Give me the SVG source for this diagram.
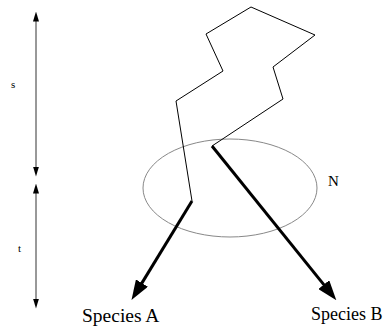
<svg xmlns="http://www.w3.org/2000/svg" width="387" height="328" viewBox="0 0 387 328">
<style>
.lbl{font-family:"Liberation Serif",serif;fill:#000}
.thin{fill:none;stroke:#333;stroke-width:1}
.thick{fill:none;stroke:#000;stroke-width:3}
</style>
<defs>
<marker id="sm" viewBox="0 0 10 6" refX="0.5" refY="3" markerWidth="10" markerHeight="6" markerUnits="userSpaceOnUse" orient="auto-start-reverse">
<path d="M0,0 L10,3 L0,6 z" fill="#000"/>
</marker>
<marker id="big" viewBox="0 0 20 14" refX="1" refY="7" markerWidth="20" markerHeight="14" markerUnits="userSpaceOnUse" orient="auto">
<path d="M0,0 L20,7 L0,14 z" fill="#000"/>
</marker>
</defs>
<rect width="387" height="328" fill="#fff"/>
<g id="scale-s">
<line class="thin" x1="36" y1="21" x2="36" y2="167" marker-start="url(#sm)" marker-end="url(#sm)"/>
<text class="lbl" x="11" y="88" font-size="11">s</text>
</g>
<g id="scale-t">
<line class="thin" x1="36" y1="193" x2="36" y2="299" marker-start="url(#sm)" marker-end="url(#sm)"/>
<text class="lbl" x="18" y="252" font-size="11">t</text>
</g>
<g id="region-N">
<ellipse cx="230" cy="188" rx="87" ry="49" fill="none" stroke="#888" stroke-width="1"/>
<text class="lbl" x="328" y="186" font-size="15">N</text>
</g>
<g id="connectors">
<polyline fill="none" stroke="#000" stroke-width="1" points="192,201 176,101 223,71 206,34 251,7 315,35 273,67 283,99 212,146"/>
<line class="thick" x1="192" y1="201" x2="141.4" y2="283.9" marker-end="url(#big)"/>
<line class="thick" x1="212" y1="146" x2="324.4" y2="285.4" marker-end="url(#big)"/>
</g>
<g id="species-A">
<text class="lbl" x="82" y="322" font-size="19.5">Species A</text>
</g>
<g id="species-B">
<text class="lbl" x="311" y="320" font-size="18">Species B</text>
</g>
</svg>
